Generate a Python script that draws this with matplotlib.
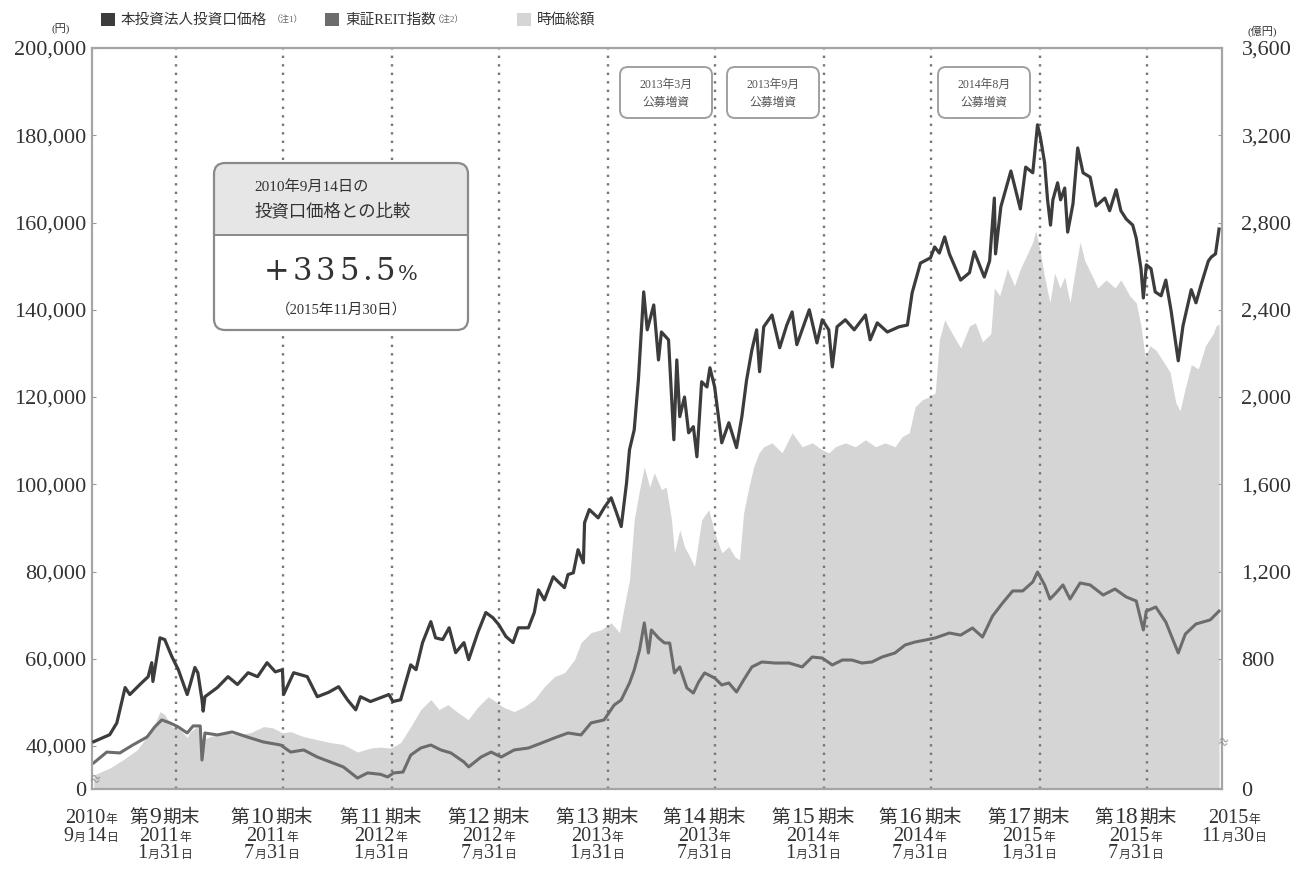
import numpy as np
import pandas as pd
import matplotlib
matplotlib.use("Agg")
import matplotlib.pyplot as plt
import matplotlib.dates as mdates
from matplotlib.patches import FancyBboxPatch, Rectangle
from matplotlib.lines import Line2D
from matplotlib.transforms import Affine2D
from matplotlib.offsetbox import TextArea, HPacker, VPacker, AnnotationBbox

W, H = 1295, 869
SJP = ["Liberation Serif", "Noto Sans CJK JP"]   # 数字はセリフ、漢字はCJK
TXT = "#333333"
START = pd.Timestamp("2010-09-14")

# --- データ (2010/9/14 からの経過日数で読み取り) ---
price_day = [0, 27, 39, 53, 61, 78, 92, 98, 100, 112,
             120, 132, 143, 158, 163, 171, 176, 183, 185, 188,
             209, 227, 243, 261, 277, 293, 307, 319, 321, 338,
             361, 378, 397, 414, 429, 443, 451, 468, 499, 506,
             519, 528, 536, 545, 556, 570, 578, 590, 601, 612,
             626, 634, 650, 663, 675, 685, 697, 709, 718, 735,
             745, 752, 762, 777, 785, 796, 802, 811, 819, 828,
             830, 838, 853, 863, 875, 884, 892, 901, 906, 914,
             921, 930, 936, 947, 955, 960, 972, 981, 986, 991,
             999, 1006, 1014, 1020, 1028, 1037, 1042, 1050, 1062, 1074,
             1087, 1096, 1104, 1113, 1121, 1126, 1133, 1147, 1160, 1172,
             1181, 1189, 1210, 1223, 1232, 1243, 1249, 1257, 1271, 1286,
             1299, 1305, 1313, 1325, 1342, 1362, 1376, 1384, 1398, 1415,
             1422, 1430, 1439, 1447, 1466, 1481, 1489, 1506, 1515, 1523,
             1525, 1534, 1551, 1559, 1567, 1576, 1588, 1596, 1601, 1608,
             1613, 1618, 1622, 1630, 1635, 1642, 1647, 1656, 1664, 1673,
             1685, 1695, 1710, 1718, 1729, 1737, 1746, 1757, 1763, 1771,
             1775, 1780, 1788, 1795, 1805, 1813, 1822, 1834, 1842, 1856,
             1864, 1873, 1885, 1890, 1897, 1903]
price_yen = [41000, 42600, 45300, 53400, 51800, 54100, 55900, 59100, 54800, 64800,
             64400, 60500, 57500, 51800, 54100, 58000, 56800, 50600, 48000, 51300,
             53400, 55900, 54100, 56800, 55900, 59100, 57000, 57500, 51800, 56800,
             55900, 51300, 52300, 53600, 50600, 48300, 51300, 50200, 51800, 50200,
             50600, 54800, 58600, 57500, 63700, 68500, 64800, 64400, 67100, 61400,
             63700, 59800, 66200, 70600, 69400, 67800, 65100, 63700, 67100, 67100,
             70600, 75800, 73500, 78800, 77700, 76300, 79300, 79700, 85000, 82000,
             91200, 94200, 92300, 94600, 96900, 93500, 90300, 100300, 107900, 112500,
             123900, 144100, 135400, 141100, 128500, 134900, 133100, 110200, 128500, 115500,
             120000, 111800, 113200, 106300, 123500, 122300, 126700, 122300, 109500, 114100,
             108400, 115500, 123900, 130800, 135400, 125800, 136100, 138800, 131300, 136500,
             139500, 132000, 140000, 132400, 137700, 135400, 126900, 136100, 137700, 135400,
             137700, 138800, 133100, 137000, 134900, 136100, 136500, 143900, 150700, 151900,
             154400, 153000, 156700, 152800, 146800, 148500, 153300, 147500, 151200, 165600,
             152800, 163600, 171800, 167500, 163100, 172700, 171400, 182400, 179400, 173700,
             165200, 159400, 165200, 169100, 165200, 167900, 157800, 164300, 177100, 171400,
             170400, 163800, 165600, 162700, 167500, 162700, 160800, 159400, 156400, 149400,
             142700, 150300, 149400, 144100, 143200, 146800, 139700, 128300, 136300, 144600,
             141600, 145900, 151200, 152100, 152800, 158500]

reit_day = [0, 22, 44, 66, 90, 103, 115, 129, 143, 158,
            168, 180, 183, 188, 209, 234, 260, 287, 316, 333,
            355, 378, 400, 422, 446, 463, 485, 497, 507, 523,
            536, 553, 570, 587, 604, 626, 634, 655, 672, 689,
            711, 735, 757, 779, 802, 824, 841, 863, 880, 892,
            906, 914, 923, 931, 938, 943, 955, 965, 974, 982,
            991, 1003, 1014, 1023, 1033, 1050, 1062, 1074, 1087, 1099,
            1113, 1130, 1152, 1176, 1198, 1215, 1232, 1249, 1266, 1282,
            1299, 1316, 1333, 1355, 1372, 1389, 1406, 1423, 1447, 1466,
            1486, 1503, 1520, 1537, 1554, 1571, 1588, 1596, 1608, 1617,
            1627, 1639, 1651, 1668, 1685, 1707, 1727, 1746, 1763, 1775,
            1780, 1796, 1813, 1834, 1846, 1864, 1888, 1903]
reit_idx = [920, 981, 976, 1021, 1066, 1123, 1163, 1146, 1123, 1089,
            1129, 1129, 936, 1089, 1078, 1095, 1066, 1038, 1021, 981,
            993, 953, 925, 897, 834, 863, 855, 840, 863, 868,
            964, 1004, 1021, 993, 976, 925, 897, 953, 981, 953,
            993, 1004, 1032, 1061, 1089, 1078, 1146, 1163, 1247, 1276,
            1372, 1446, 1559, 1712, 1542, 1672, 1627, 1599, 1598, 1429,
            1463, 1344, 1315, 1378, 1429, 1400, 1361, 1372, 1321, 1389,
            1463, 1491, 1485, 1485, 1463, 1519, 1513, 1474, 1502, 1502,
            1485, 1491, 1519, 1542, 1587, 1604, 1615, 1627, 1655, 1643,
            1683, 1632, 1751, 1825, 1893, 1893, 1944, 2000, 1927, 1847,
            1881, 1927, 1847, 1938, 1927, 1870, 1904, 1859, 1836, 1672,
            1779, 1802, 1717, 1542, 1649, 1706, 1729, 1779]

cap_day = [0, 27, 49, 73, 90, 103, 112, 120, 132, 146,
           158, 163, 175, 183, 197, 219, 243, 265, 287, 302,
           319, 333, 355, 378, 400, 422, 446, 468, 485, 502,
           519, 536, 553, 570, 584, 599, 616, 633, 650, 667,
           680, 694, 711, 728, 745, 762, 779, 796, 813, 824,
           841, 858, 875, 889, 897, 906, 914, 923, 931, 940,
           948, 960, 968, 977, 982, 991, 999, 1008, 1016, 1028,
           1040, 1050, 1062, 1074, 1084, 1092, 1099, 1108, 1116, 1125,
           1133, 1147, 1164, 1181, 1198, 1215, 1232, 1243, 1254, 1271,
           1288, 1305, 1322, 1338, 1355, 1367, 1379, 1389, 1401, 1413,
           1423, 1430, 1439, 1452, 1466, 1481, 1491, 1503, 1517, 1523,
           1532, 1545, 1557, 1567, 1579, 1588, 1593, 1600, 1608, 1617,
           1625, 1634, 1642, 1651, 1659, 1668, 1676, 1686, 1698, 1712,
           1727, 1737, 1752, 1763, 1771, 1778, 1786, 1796, 1808, 1820,
           1830, 1837, 1846, 1856, 1868, 1880, 1893, 1898, 1903]
cap_oku = [130, 195, 270, 363, 443, 498, 558, 544, 489, 475,
           439, 466, 489, 429, 443, 461, 452, 461, 489, 484,
           461, 466, 443, 429, 416, 407, 344, 381, 390, 381,
           416, 489, 567, 613, 567, 590, 553, 521, 580, 626,
           603, 576, 558, 580, 613, 672, 718, 736, 796, 874,
           920, 933, 965, 920, 1039, 1162, 1437, 1575, 1680, 1588,
           1653, 1575, 1588, 1437, 1286, 1391, 1314, 1268, 1222, 1437,
           1483, 1378, 1286, 1314, 1268, 1254, 1469, 1588, 1680, 1744,
           1772, 1790, 1744, 1836, 1772, 1790, 1758, 1744, 1772, 1790,
           1772, 1804, 1772, 1790, 1772, 1818, 1836, 1955, 1987, 2001,
           2019, 2262, 2354, 2290, 2225, 2326, 2340, 2253, 2290, 2500,
           2464, 2588, 2510, 2588, 2657, 2711, 2762, 2675, 2551, 2432,
           2569, 2500, 2551, 2432, 2569, 2711, 2624, 2569, 2500, 2537,
           2500, 2537, 2464, 2432, 2326, 2184, 2235, 2216, 2166, 2115,
           1973, 1937, 2042, 2148, 2129, 2235, 2290, 2326, 2335]

period_no = [9, 10, 11, 12, 13, 14, 15, 16, 17, 18]
period_end = ["2011-01-31", "2011-07-31", "2012-01-31", "2012-07-31", "2013-01-31",
              "2013-07-31", "2014-01-31", "2014-07-31", "2015-01-31", "2015-07-31"]
offer_lbl = ["2013年3月", "2013年9月", "2014年8月"]
left_ticks = [0, 40000, 60000, 80000, 100000, 120000, 140000, 160000, 180000, 200000]
right_ticks = [0, 800, 1200, 1600, 2000, 2400, 2800, 3200, 3600]

C_PRICE, C_REIT, C_CAP = "#3c3c3c", "#6c6c6c", "#d5d5d5"


def to_dates(days):
    return START + pd.to_timedelta(days, unit="D")


def broken(brk, k):
    """brk 以下を k 倍に圧縮する軸 (波線で省略)"""
    def fwd(v):
        v = np.asarray(v, dtype=float)
        return np.where(v >= brk, v, brk - (brk - v) * k)

    def inv(u):
        u = np.asarray(u, dtype=float)
        return np.where(u >= brk, u, brk - (brk - u) / k)
    return fwd, inv


def row(parts, sep=0.5, fam=SJP):
    kids = [TextArea(s, textprops=dict(fontsize=z, family=fam, color=TXT)) for s, z in parts]
    return HPacker(children=kids, align="baseline", pad=0, sep=sep)


def date_rows(y, m, d):
    return [row([(y, 14.5), ("年", 8.5)]),
            row([(m, 14.5), ("月", 8.5), (d, 14.5), ("日", 8.5)])]


fig = plt.figure(figsize=(W / 100, H / 100), dpi=100)
tpx = Affine2D().scale(1 / W, -1 / H).translate(0, 1) + fig.transFigure

ax = fig.add_axes([92 / W, 1 - 789 / H, (1222 - 92) / W, (789 - 48) / H])
ax_cap = ax.twinx()
ax_reit = ax.twinx()
ax_cap.set_zorder(1); ax_reit.set_zorder(2); ax.set_zorder(3)
ax.patch.set_visible(False)
ax_cap.patch.set_visible(True); ax_cap.patch.set_facecolor("white")

# 時価総額 (右軸)
ax_cap.fill_between(to_dates(cap_day), 0, cap_oku, color=C_CAP, lw=0, zorder=1)
ax_cap.set_yscale("function", functions=broken(400, 43 / 87.3))
ax_cap.set_ylim(0, 3600)
ax_cap.set_yticks(right_ticks)
ax_cap.set_yticklabels([f"{v:,}" for v in right_ticks], fontsize=16,
                       family="Liberation Serif", color=TXT)
ax_cap.tick_params(axis="y", direction="in", length=3, color="#999999", pad=14)

# 決算期末の点線
for d in period_end:
    ax_cap.axvline(pd.Timestamp(d), color="#777777", lw=1.7,
                   ls=(0, (1, 2.6)), zorder=3)

# 東証REIT指数 (非表示軸)
ax_reit.plot(to_dates(reit_day), reit_idx, color=C_REIT, lw=2.2)
ax_reit.set_ylim(772, 4966)
ax_reit.axis("off")

# 投資口価格 (左軸)
ax.plot(to_dates(price_day), price_yen, color=C_PRICE, lw=2.3, zorder=4)
ax.set_yscale("function", functions=broken(40000, 43 / 174.6))
ax.set_ylim(0, 200000)
ax.set_yticks(left_ticks)
ax.set_yticklabels([f"{v:,}" for v in left_ticks], fontsize=16,
                   family="Liberation Serif", color=TXT)
ax.tick_params(axis="y", direction="in", length=3, color="#999999", pad=4)
ax.set_xlim(START - pd.Timedelta(days=3), START + pd.Timedelta(days=1908))
ax.set_xticks([])
for a in (ax_cap, ax_reit):
    for s in a.spines.values():
        s.set_visible(False)
for s in ax.spines.values():
    s.set_color("#a5a5a5"); s.set_linewidth(1.6)

# x 軸ラベル
xt = ax.get_xaxis_transform()
for n, d in zip(period_no, period_end):
    t = pd.Timestamp(d)
    box = VPacker(children=[row([("第", 13.5), (str(n), 17), ("期末", 13.5)], sep=1)]
                  + date_rows(str(t.year), str(t.month), str(t.day)),
                  align="center", pad=0, sep=-1)
    ax.add_artist(AnnotationBbox(box, (mdates.date2num(t), 0), xycoords=xt, xybox=(-8, -13),
                                 boxcoords="offset points", box_alignment=(0.5, 1),
                                 frameon=False, annotation_clip=False))
for (xc, y, m, dd) in [(91, "2010", "9", "14"), (1234, "2015", "11", "30")]:
    box = VPacker(children=date_rows(y, m, dd), align="center", pad=0, sep=-1)
    fig.add_artist(AnnotationBbox(box, (xc, 809), xycoords=tpx, box_alignment=(0.5, 1),
                                  frameon=False, annotation_clip=False))


def T(x, y, s, **kw):
    kw.setdefault("color", TXT)
    kw.setdefault("family", SJP)
    return fig.text(x / W, 1 - y / H, s, **kw)


# 単位
T(61, 29, "(円)", fontsize=8, ha="center", va="center")
T(1262, 31, "(億円)", fontsize=8, ha="center", va="center")

# 凡例
for x0, lbl, note, c, nx in [(101, "本投資法人投資口価格", "（注1）", C_PRICE, 272),
                             (325, "東証REIT指数", "（注2）", C_REIT, 433),
                             (517, "時価総額", None, C_CAP, None)]:
    fig.add_artist(Rectangle((x0, 13), 14, 13, transform=tpx, color=c, lw=0))
    T(x0 + 20, 20, lbl, fontsize=10.5, va="center")
    if note:
        T(nx, 19, note, fontsize=6.5, va="center", color="#666666")

# 省略記号
T(94, 780, "≈", fontsize=12, ha="center", va="center", color="#888888", rotation=-15)
T(1222, 743, "≈", fontsize=12, ha="center", va="center", color="#888888", rotation=-15)

# 比較ボックス
outer = FancyBboxPatch((214, 163), 254, 167, boxstyle="round,pad=0,rounding_size=11",
                       transform=tpx, fc="white", ec="none", zorder=5)
fig.add_artist(outer)
top = Rectangle((214, 163), 254, 72, transform=tpx, fc="#e6e6e6", ec="none", zorder=5.1)
fig.add_artist(top)
top.set_clip_path(outer)
fig.add_artist(Line2D([214, 468], [235, 235], transform=tpx, color="#8a8a8a", lw=1.4, zorder=5.2))
fig.add_artist(FancyBboxPatch((214, 163), 254, 167, boxstyle="round,pad=0,rounding_size=11",
                              transform=tpx, fc="none", ec="#8a8a8a", lw=1.6, zorder=5.3))
T(254, 187, "2010年9月14日の", fontsize=11, va="center", zorder=6)
T(254, 212, "投資口価格との比較", fontsize=12.5, va="center", zorder=6)
pct = row([(ch, 22) for ch in "+335.5"] + [("%", 15)], sep=2.5, fam="DejaVu Serif")
ab = AnnotationBbox(pct, (341, 272), xycoords=tpx, box_alignment=(0.5, 0.5),
                    frameon=False, annotation_clip=False)
ab.set_zorder(6)
fig.add_artist(ab)
T(341, 310, "（2015年11月30日）", fontsize=10.5, ha="center", va="center", zorder=6)

# 公募増資の吹き出し
for x0, lbl in zip([620, 727, 938], offer_lbl):
    fig.add_artist(FancyBboxPatch((x0, 67), 92, 51, boxstyle="round,pad=0,rounding_size=8",
                                  transform=tpx, fc="white", ec="#a0a0a0", lw=1.4, zorder=5))
    T(x0 + 46, 85, lbl, fontsize=8.5, ha="center", va="center", color="#555555", zorder=6)
    T(x0 + 46, 103, "公募増資", fontsize=8.5, ha="center", va="center", color="#555555", zorder=6)

fig.savefig("out.png", dpi=100, facecolor="white")
